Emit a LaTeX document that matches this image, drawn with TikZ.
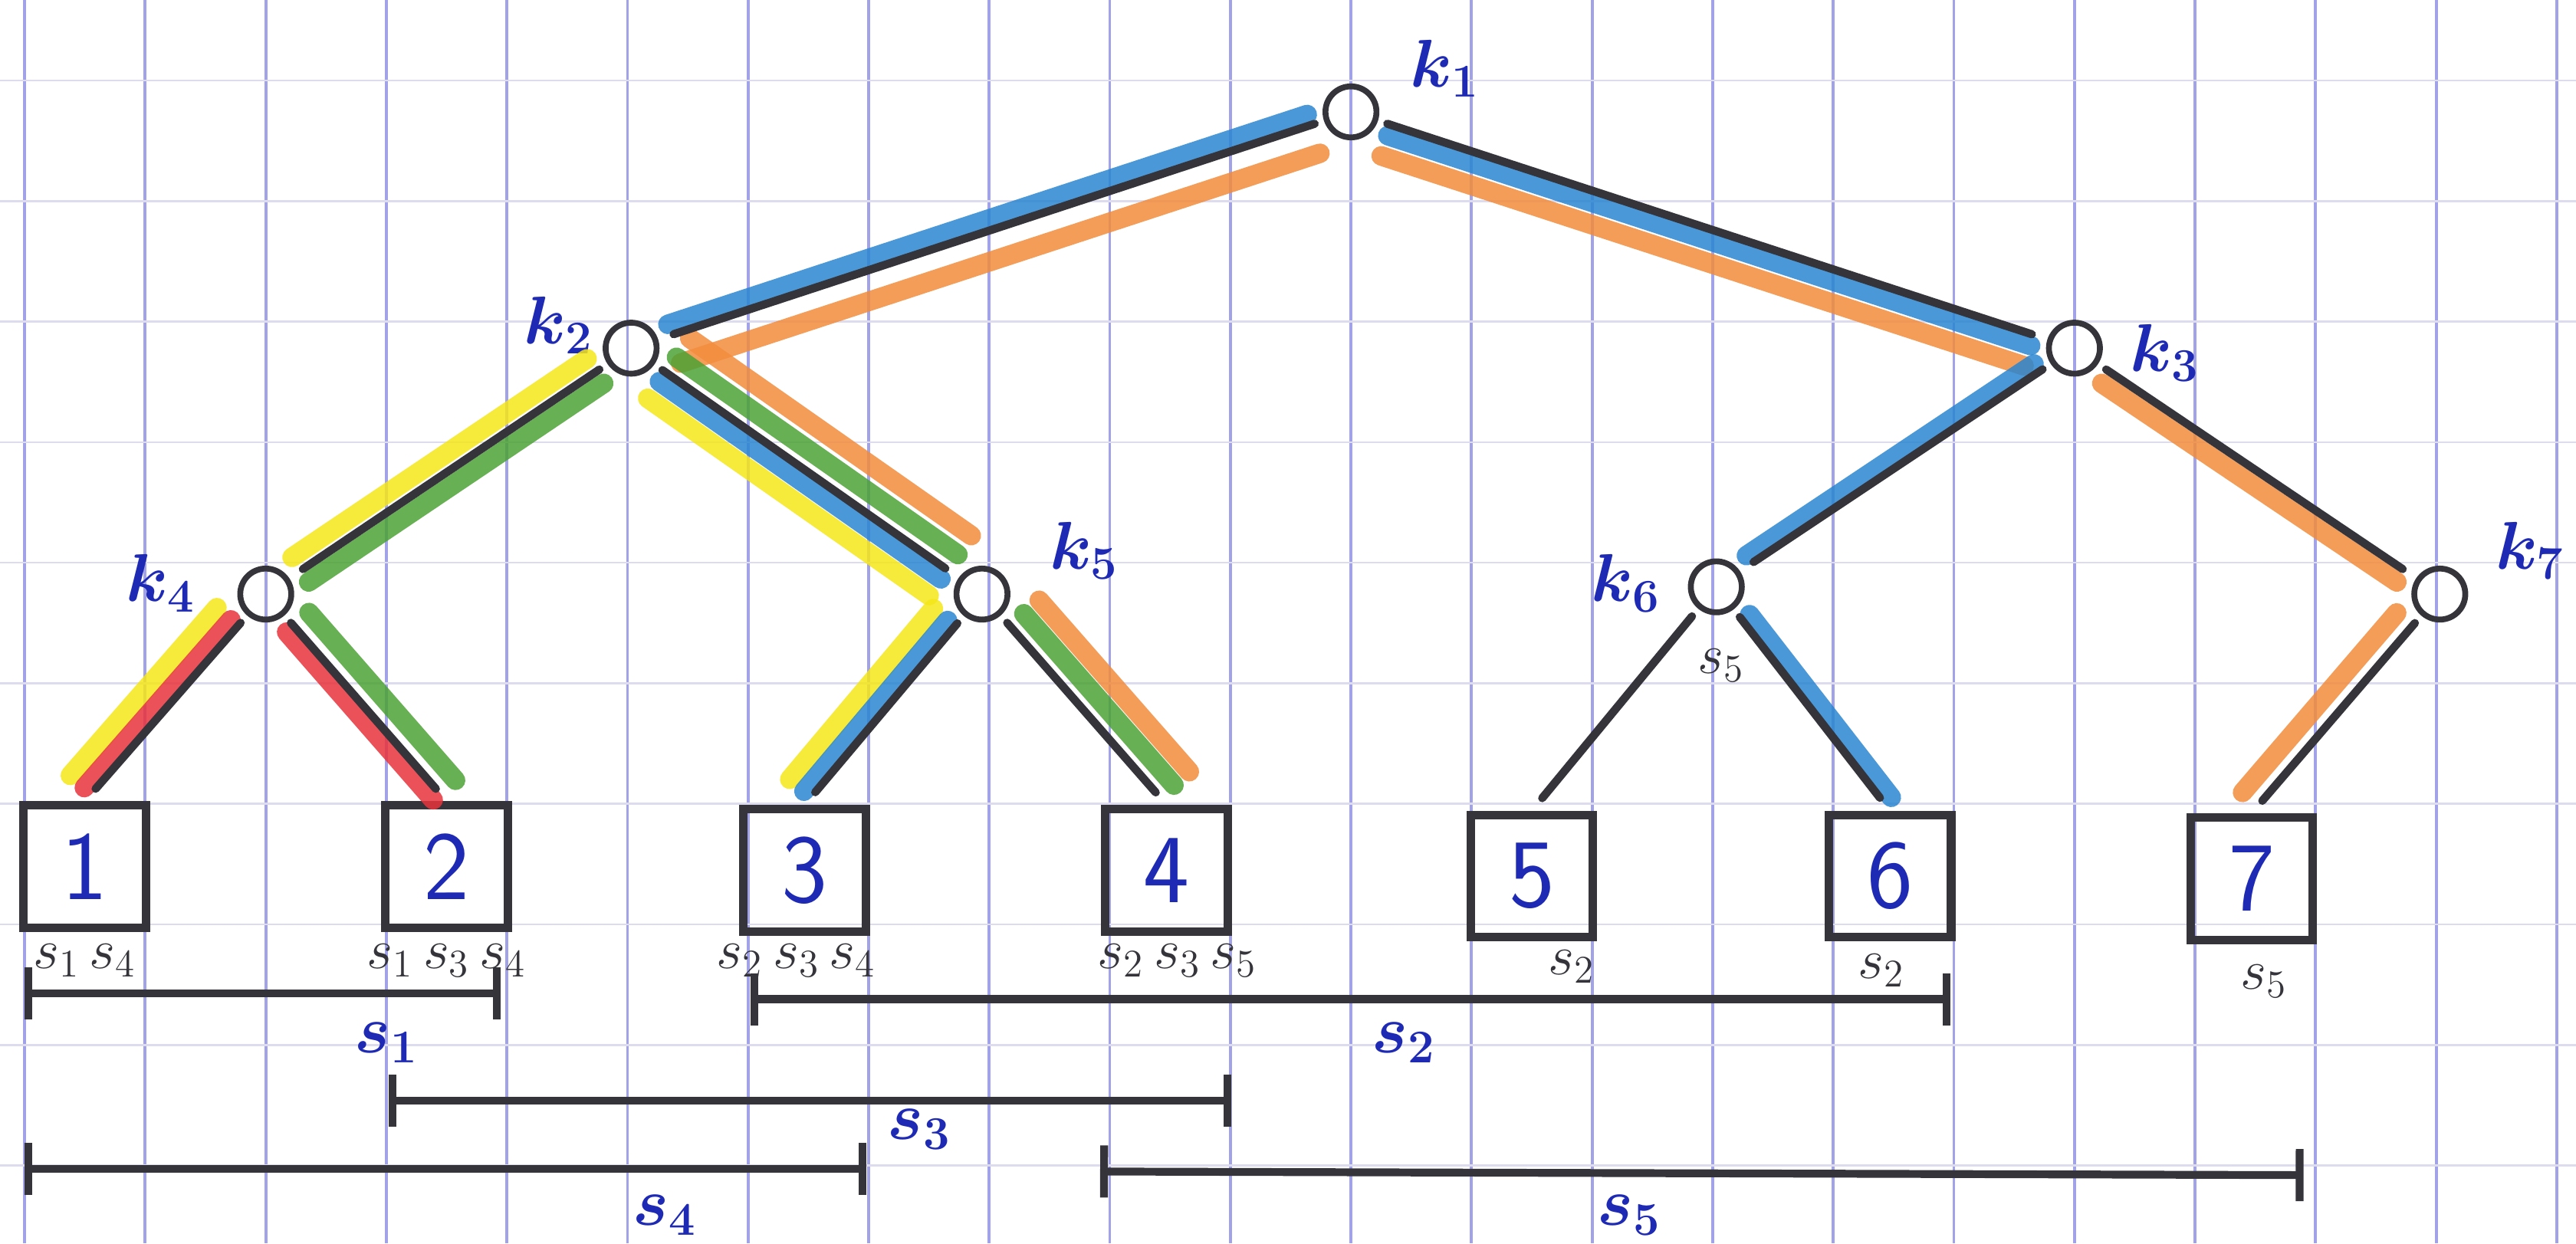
\documentclass[tikz,border=0pt]{standalone}
\usepackage{fontspec}
\usepackage{tikz}
\usetikzlibrary{arrows.meta,calc,positioning}
\definecolor{gridblue} {HTML}{A2A2E8}
\definecolor{gridfaint}{HTML}{DCDCEE}
\definecolor{inkblue}  {HTML}{1E2AB4}
\definecolor{pencil}   {HTML}{34343A}
\definecolor{hlblue}   {HTML}{2A86D0}
\definecolor{hlorange} {HTML}{F28C3C}
\definecolor{hlyellow} {HTML}{F5E619}
\definecolor{hlgreen}  {HTML}{4CA235}
\definecolor{hlred}    {HTML}{E8333C}

% coloured band beside an edge: [extra], from, to, offset, colour
\newcommand{\band}[5][]{%
  \draw[hl,draw=#5,#1] ($(#2)!#4!90:(#3)$) -- ($(#3)!#4!-90:(#2)$);}

\begin{document}
\begin{tikzpicture}[
  knode/.style={draw=pencil,circle,line width=1.8pt,minimum size=0.55cm,inner sep=0pt},
  leaf/.style={draw=pencil,line width=2.6pt,minimum size=1.32cm,inner sep=0pt,
               text=inkblue,font=\sffamily\fontsize{30}{32}\selectfont},
  klbl/.style={text=inkblue,font=\huge\boldmath},
  slbl/.style={text=inkblue,font=\huge\boldmath},
  set/.style={text=pencil,font=\LARGE},
  edge/.style={draw=pencil,line width=2.5pt,line cap=round,shorten <=3pt,shorten >=5pt},
  hl/.style={line width=6pt,line cap=round,opacity=0.85,shorten <=13pt,shorten >=13pt},
  seg/.style={draw=pencil,line width=2.4pt,
              {Bar[width=16pt,line width=2.4pt]}-{Bar[width=16pt,line width=2.4pt]}},
  gridv/.style={draw=gridblue,line width=0.9pt},
  gridh/.style={draw=gridfaint,line width=0.6pt},
  x=1.3cm, y=1.3cm
]
\useasboundingbox (-0.204,-9.646) rectangle (21.16,0.668);

% --- paper grid ---
\foreach \i in {0,...,21} \draw[gridv] (\i,-9.646) -- (\i,0.668);
\foreach \j in {0,...,9} \draw[gridh] (-0.204,-\j) -- (21.16,-\j);

% --- inner nodes ---
\node[knode] (k1) at (11,   -0.26) {};
\node[knode] (k2) at (5.03, -2.22) {};
\node[knode] (k3) at (17,   -2.22) {};
\node[knode] (k4) at (2,    -4.26) {};
\node[knode] (k5) at (7.94, -4.26) {};
\node[knode] (k6) at (14.03,-4.2)  {};
\node[knode] (k7) at (20.03,-4.26) {};

\node[klbl] (k1lbl) at (11.78, 0.1)  {$k_1$};
\node[klbl] (k2lbl) at (4.43, -2.03) {$k_2$};
\node[klbl] (k3lbl) at (17.75,-2.26) {$k_3$};
\node[klbl] (k4lbl) at (1.13, -4.17) {$k_4$};
\node[klbl] (k5lbl) at (8.79, -3.9)  {$k_5$};
\node[klbl] (k6lbl) at (13.28,-4.17) {$k_6$};
\node[klbl] (k7lbl) at (20.78,-3.9)  {$k_7$};
\node[set]  (k6set) at (14.07,-4.85) {$s_5$};

% --- leaves ---
\foreach \n/\x/\y in {1/0.5/-6.52, 2/3.5/-6.52, 3/6.47/-6.55, 4/9.47/-6.55,
                      5/12.5/-6.6, 6/15.47/-6.6, 7/18.47/-6.62}
  \node[leaf] (b\n) at (\x,\y) {\n};

\node[set] (m1) at (0.5,  -7.3)  {$s_1\,s_4$};
\node[set] (m2) at (3.5,  -7.3)  {$s_1\,s_3\,s_4$};
\node[set] (m3) at (6.4,  -7.3)  {$s_2\,s_3\,s_4$};
\node[set] (m4) at (9.56, -7.3)  {$s_2\,s_3\,s_5$};
\node[set] (m5) at (12.83,-7.35) {$s_2$};
\node[set] (m6) at (15.4, -7.38) {$s_2$};
\node[set] (m7) at (18.57,-7.47) {$s_5$};

% --- coloured bands ---
\band{k1}{k2}{-0.12cm}{hlblue}
\band{k1}{k2}{0.32cm}{hlorange}
\band{k1}{k3}{-0.12cm}{hlblue}
\band{k1}{k3}{-0.35cm}{hlorange}
\band{k2}{k4}{-0.17cm}{hlyellow}
\band{k2}{k4}{0.15cm}{hlgreen}
\band{k2}{k5}{-0.34cm}{hlyellow}
\band{k2}{k5}{-0.12cm}{hlblue}
\band{k2}{k5}{0.2cm}{hlgreen}
\band{k2}{k5}{0.45cm}{hlorange}
\band{k3}{k6}{-0.1cm}{hlblue}
\band{k3}{k7}{-0.15cm}{hlorange}
\band[shorten >=3pt]{k4}{b1.north}{-0.3cm}{hlyellow}
\band[shorten >=3pt]{k4}{b1.north}{-0.1cm}{hlred}
\band[shorten >=3pt]{k4}{b2.north}{-0.1cm}{hlred}
\band[shorten >=3pt]{k4}{b2.north}{0.22cm}{hlgreen}
\band[shorten >=3pt]{k5}{b3.north}{-0.3cm}{hlyellow}
\band[shorten >=3pt]{k5}{b3.north}{-0.1cm}{hlblue}
\band[shorten >=3pt]{k5}{b4.north}{0.2cm}{hlgreen}
\band[shorten >=3pt]{k5}{b4.north}{0.42cm}{hlorange}
\band[shorten >=3pt]{k6}{b6.north}{0.1cm}{hlblue}
\band[shorten >=3pt]{k7}{b7.north}{-0.22cm}{hlorange}

% --- tree edges ---
\draw[edge] (k1) -- (k2);
\draw[edge] (k1) -- (k3);
\draw[edge] (k2) -- (k4);
\draw[edge] (k2) -- (k5);
\draw[edge] (k3) -- (k6);
\draw[edge] (k3) -- (k7);
\draw[edge] (k4) -- (b1.north);
\draw[edge] (k4) -- (b2.north);
\draw[edge] (k5) -- (b3.north);
\draw[edge] (k5) -- (b4.north);
\draw[edge] (k6) -- (b5.north);
\draw[edge] (k6) -- (b6.north);
\draw[edge] (k7) -- (b7.north);

% --- intervals ---
\coordinate (s1a) at (0,    -7.57); \coordinate (s1b) at (3.95, -7.57);
\coordinate (s2a) at (6.02, -7.62); \coordinate (s2b) at (15.97,-7.62);
\coordinate (s3a) at (3.02, -8.46); \coordinate (s3b) at (10.01,-8.46);
\coordinate (s4a) at (0,    -9.03); \coordinate (s4b) at (6.98, -9.03);
\coordinate (s5a) at (8.92, -9.05); \coordinate (s5b) at (18.9, -9.08);
\foreach \s in {1,...,5} \draw[seg] (s\s a) -- (s\s b);

\node[slbl] (t1) at (3.0,  -7.98) {$s_1$};
\node[slbl] (t2) at (11.44,-7.98) {$s_2$};
\node[slbl] (t3) at (7.42, -8.7)  {$s_3$};
\node[slbl] (t4) at (5.31, -9.41) {$s_4$};
\node[slbl] (t5) at (13.31,-9.41) {$s_5$};
\end{tikzpicture}
\end{document}
